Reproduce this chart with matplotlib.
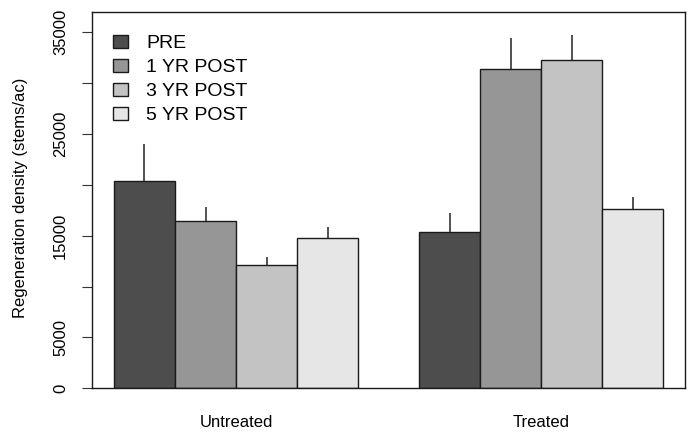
import numpy as np
import matplotlib
matplotlib.use("Agg")
import matplotlib.pyplot as plt
from matplotlib.patches import Patch

plt.rcParams["font.family"] = ["Liberation Sans", "DejaVu Sans"]

groups = ["Untreated", "Treated"]
periods = ["PRE", "1 YR POST", "3 YR POST", "5 YR POST"]
colors = ["#4d4d4d", "#969696", "#c3c3c3", "#e6e6e6"]

# mean density per period, [Untreated, Treated]
pre = [20380, 15370]
yr1 = [16450, 31390]
yr3 = [12090, 32280]
yr5 = [14810, 17630]
# upper error (one-sided, drawn above the bar)
pre_se = [3610, 1890]
yr1_se = [1400, 3020]
yr3_se = [850, 2420]
yr5_se = [1080, 1150]

yticks = [0, 5000, 10000, 15000, 20000, 25000, 30000, 35000]
ytick_labels = ["0", "5000", "", "15000", "", "25000", "", "35000"]

means = [pre, yr1, yr3, yr5]
errs = [pre_se, yr1_se, yr3_se, yr5_se]

fig = plt.figure(figsize=(6.94, 4.34), dpi=100)
ax = fig.add_axes([0.1326, 0.1053, 0.8545, 0.8664])

# R barplot(beside=TRUE) layout: width 1, space 1 before each group
group_start = np.array([1.0, 6.0])
for i, (vals, se) in enumerate(zip(means, errs)):
    x = group_start + i + 0.5
    ax.bar(x, vals, width=1.0, color=colors[i], edgecolor="#1a1a1a",
           linewidth=1.0, zorder=2)
    ax.vlines(x, vals, np.array(vals) + np.array(se), color="#333333",
              linewidth=1.2, zorder=3)

ax.set_xlim(0.64, 10.36)
ax.set_ylim(0, 36970)

ax.set_yticks(yticks)
ax.set_yticklabels(ytick_labels, rotation=90, va="center", fontsize=12)
ax.tick_params(axis="y", length=7.2, width=0.8, pad=10, color="#333333")

ax.set_xticks(group_start + 2)
ax.set_xticklabels(groups, fontsize=12)
ax.tick_params(axis="x", length=0, pad=19)

for sp in ax.spines.values():
    sp.set_linewidth(1.0)
    sp.set_color("#1a1a1a")

fig.text(0.030, 0.545, "Regeneration density (stems/ac)", rotation=90,
         ha="center", va="center", fontsize=12)

handles = [Patch(facecolor=c, edgecolor="#1a1a1a", linewidth=1.0) for c in colors]
ax.legend(handles, periods, loc="upper left", frameon=False, fontsize=14,
          handlelength=0.78, handleheight=0.65, handletextpad=0.95,
          labelspacing=0.34, borderaxespad=0,
          bbox_to_anchor=(0.022, 0.96))

fig.savefig("out.png", dpi=100)
